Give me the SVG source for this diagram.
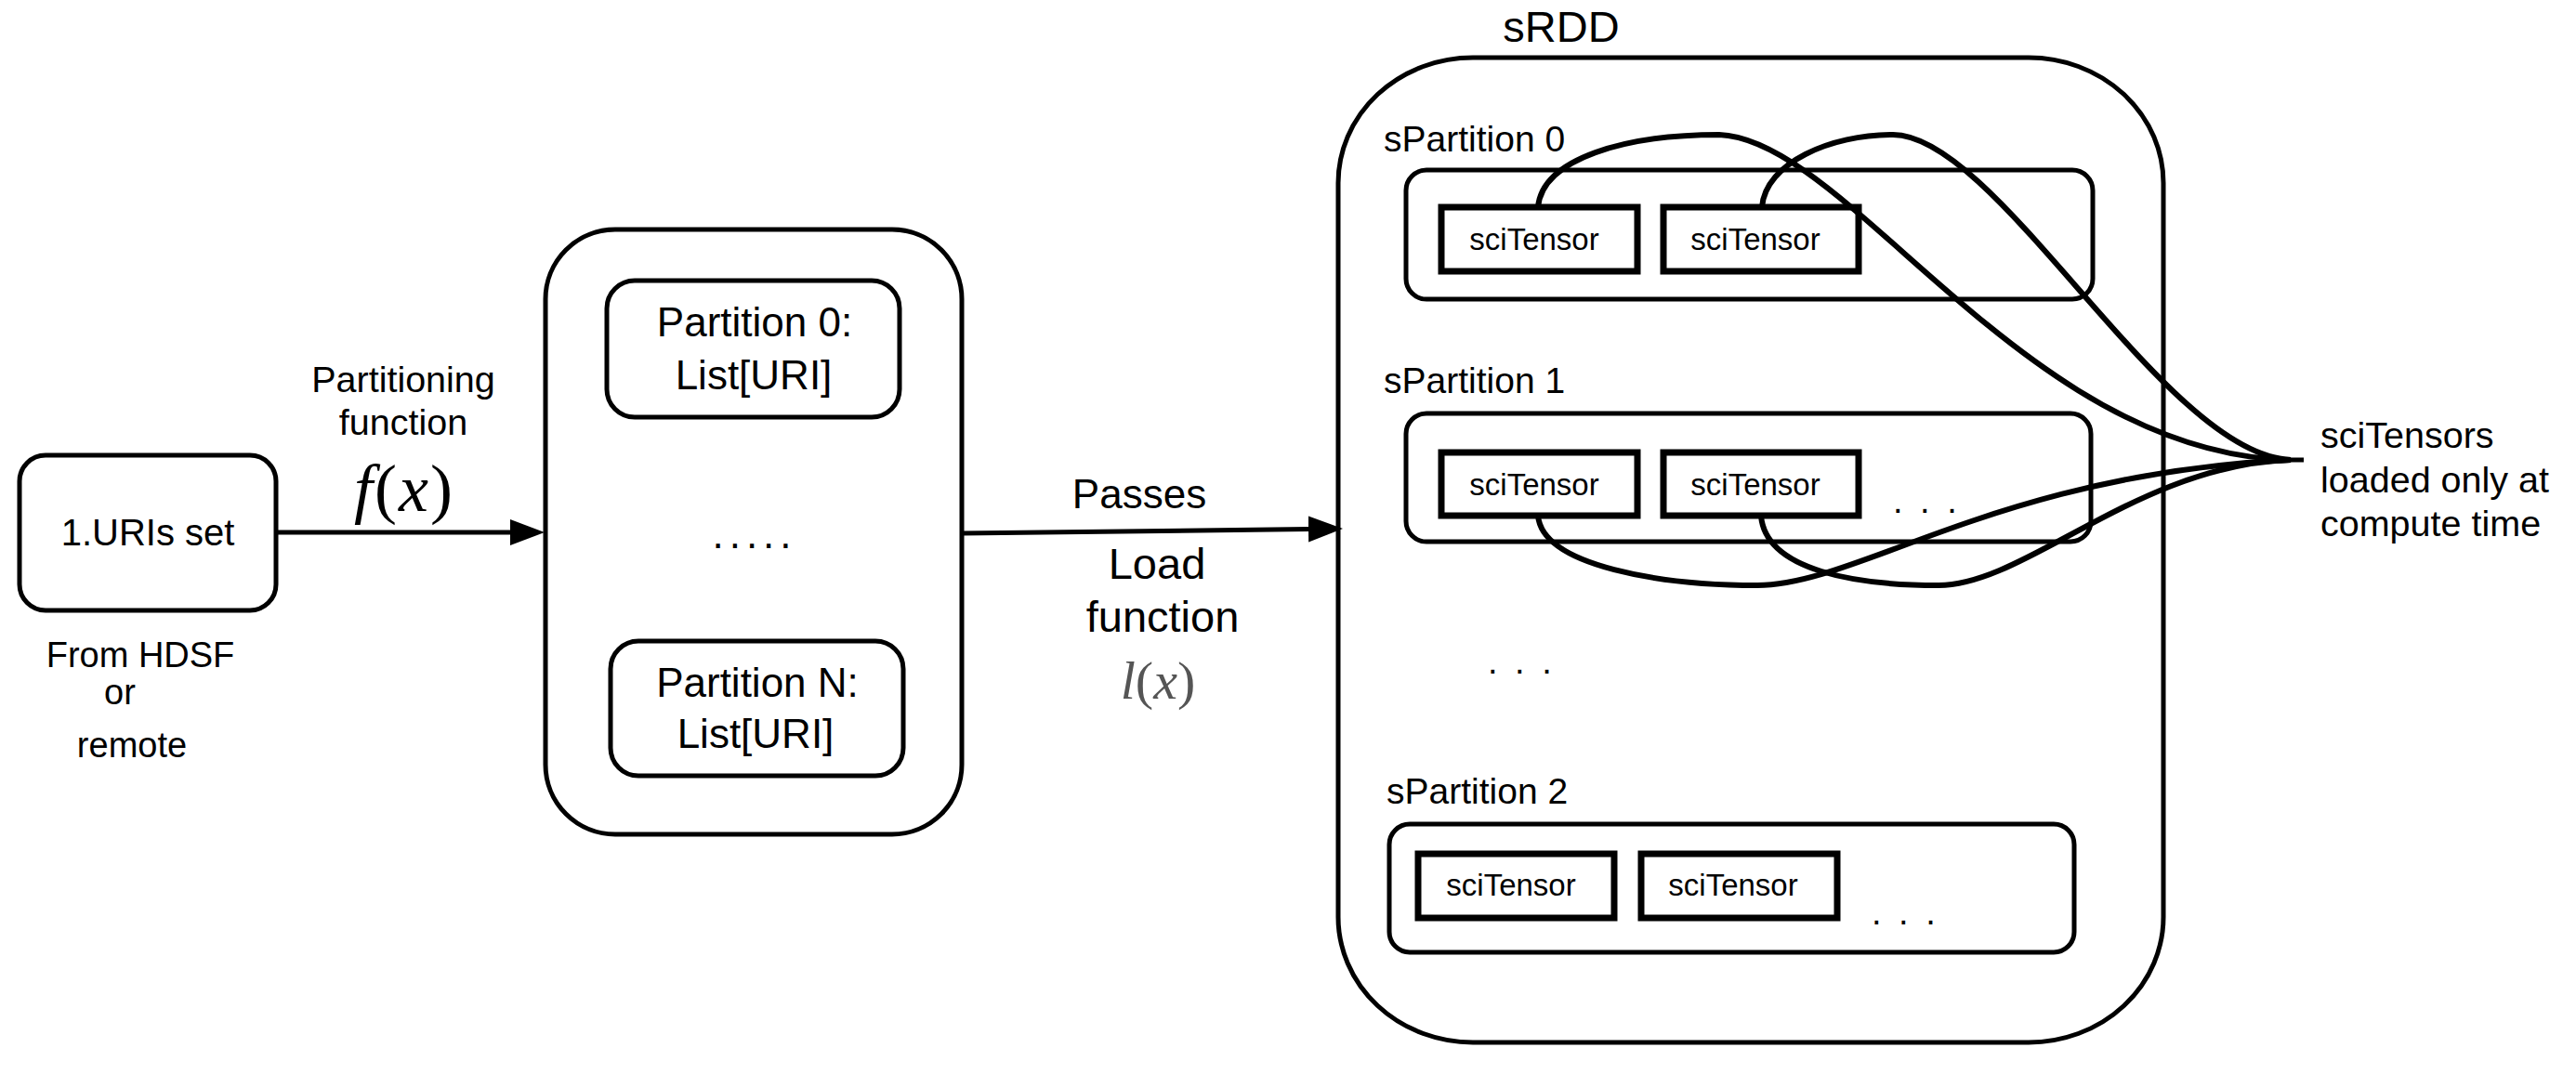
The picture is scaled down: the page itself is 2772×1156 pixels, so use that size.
<svg xmlns="http://www.w3.org/2000/svg" width="2772" height="1156" viewBox="0 0 2772 1156">
<style>
.t{font-family:"Liberation Sans",Arial,sans-serif;fill:#000}
.c{text-anchor:middle}
.box{fill:#fff;stroke:#000;stroke-width:5}
.inner{fill:none;stroke:#000;stroke-width:5}
.st{fill:#fff;stroke:#000;stroke-width:7}
.edge{fill:none;stroke:#000;stroke-width:5}
.curve{fill:none;stroke:#000;stroke-width:6}
.m{font-family:"Liberation Serif","Times New Roman",serif}
</style>
<defs>
<marker id="ah" markerUnits="userSpaceOnUse" markerWidth="40" markerHeight="30" viewBox="0 -15 40 30" refX="0" refY="0" orient="auto">
<path d="M0,-14 L37,0 L0,14 Z" fill="#000"/>
</marker>
</defs>
<rect width="2772" height="1156" fill="#fff"/>

<g id="uris">
<rect class="box" x="21" y="490" width="276" height="167" rx="28"/>
<text class="t c" x="159" y="587" font-size="40">1.URIs set</text>
</g>
<g id="uris-note">
<text class="t c" x="151" y="718" font-size="38">From HDSF</text>
<text class="t c" x="129" y="758" font-size="38">or</text>
<text class="t c" x="142" y="815" font-size="38">remote</text>
</g>

<g id="partitions">
<rect class="box" x="587" y="247" width="448" height="651" rx="75"/>
<g id="partition0">
<rect class="inner" x="653" y="302" width="315" height="147" rx="30"/>
<text class="t c" x="812" y="362" font-size="44">Partition 0:</text>
<text class="t c" x="811" y="419" font-size="44">List[URI]</text>
</g>
<text class="t c" x="812" y="590" font-size="44" letter-spacing="6">.....</text>
<g id="partitionN">
<rect class="inner" x="657" y="690" width="315" height="145" rx="30"/>
<text class="t c" x="815" y="750" font-size="44">Partition N:</text>
<text class="t c" x="813" y="805" font-size="44">List[URI]</text>
</g>
</g>

<g id="srdd">
<text class="t c" x="1680" y="45" font-size="47">sRDD</text>
<rect class="box" x="1440" y="62" width="888" height="1060" rx="145" ry="135"/>
<g id="spartition0">
<text class="t" x="1489" y="163" font-size="39">sPartition 0</text>
<rect class="inner" x="1513" y="183" width="739" height="139" rx="22"/>
<rect class="st" x="1551" y="223" width="211" height="69"/>
<text class="t c" x="1651" y="269" font-size="33">sciTensor</text>
<rect class="st" x="1790" y="223" width="210" height="69"/>
<text class="t c" x="1889" y="269" font-size="33">sciTensor</text>
</g>
<g id="spartition1">
<text class="t" x="1489" y="423" font-size="39">sPartition 1</text>
<rect class="inner" x="1513" y="445" width="737" height="138" rx="22"/>
<rect class="st" x="1551" y="487" width="211" height="68"/>
<text class="t c" x="1651" y="533" font-size="33">sciTensor</text>
<rect class="st" x="1790" y="487" width="210" height="68"/>
<text class="t c" x="1889" y="533" font-size="33">sciTensor</text>
<text class="t" x="2037" y="552" font-size="38" letter-spacing="4">. . .</text>
</g>
<text class="t" x="1601" y="725" font-size="38" letter-spacing="4">. . .</text>
<g id="spartition2">
<text class="t" x="1492" y="865" font-size="39">sPartition 2</text>
<rect class="inner" x="1495" y="887" width="737" height="138" rx="22"/>
<rect class="st" x="1526" y="919" width="211" height="69"/>
<text class="t c" x="1626" y="964" font-size="33">sciTensor</text>
<rect class="st" x="1766" y="919" width="211" height="69"/>
<text class="t c" x="1865" y="964" font-size="33">sciTensor</text>
<text class="t" x="2014" y="995" font-size="38" letter-spacing="4">. . .</text>
</g>
</g>

<g id="note">
<text class="t" x="2497" y="482" font-size="39.5">sciTensors</text>
<text class="t" x="2497" y="530" font-size="39.5">loaded only at</text>
<text class="t" x="2497" y="577" font-size="39.5">compute time</text>
</g>

<g id="connectors">
<line class="edge" x1="297" y1="573" x2="549" y2="573" marker-end="url(#ah)"/>
<text class="t c" x="434" y="422" font-size="39.5">Partitioning</text>
<text class="t c" x="434" y="468" font-size="39.5">function</text>
<text class="m c" x="435" y="550" font-size="72" letter-spacing="2"><tspan font-style="italic">f</tspan>(<tspan font-style="italic">x</tspan>)</text>

<line class="edge" x1="1035" y1="574" x2="1408" y2="569.5" marker-end="url(#ah)"/>
<text class="t c" x="1226" y="547" font-size="44">Passes</text>
<text class="t c" x="1245" y="623" font-size="47">Load</text>
<text class="t c" x="1251" y="680" font-size="47">function</text>
<text class="m c" x="1246" y="752" font-size="58" fill="#555"><tspan font-style="italic">l</tspan>(<tspan font-style="italic">x</tspan>)</text>

<path class="curve" d="M1655,223 C1660,170 1750,145 1850,145 C1990,150 2180,490 2465,495"/>
<path class="curve" d="M1896,223 C1900,175 1970,145 2037,145 C2150,145 2330,490 2465,495"/>
<path class="curve" d="M1655,555 C1660,610 1790,630 1891,630 C2000,630 2150,510 2465,495"/>
<path class="curve" d="M1895,555 C1900,615 2000,630 2086,630 C2180,630 2300,500 2465,495"/>
<line class="edge" x1="2440" y1="495" x2="2479" y2="495" stroke-width="6"/>
</g>
</svg>
